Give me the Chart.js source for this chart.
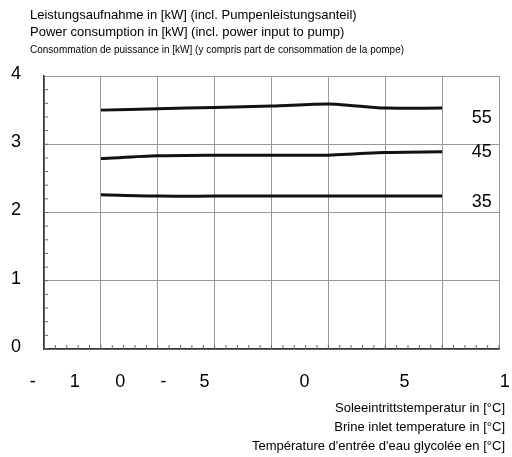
<!DOCTYPE html>
<html>
<head>
<meta charset="utf-8">
<script src="https://cdn.jsdelivr.net/npm/chart.js@4"></script>
<style>
body { margin: 0; background: #fff; }
#wrap { width: 512px; height: 457px; }
</style>
</head>
<body>
<div id="wrap"><canvas id="c"></canvas></div>
<script>
const brineTemps = [-15, -10, -5, 0, 5, 7.5, 10, 15];
const power55 = [3.50, 3.52, 3.54, 3.56, 3.59, 3.56, 3.53, 3.53];
const power45 = [2.79, 2.83, 2.84, 2.84, 2.84, 2.86, 2.88, 2.89];
const power35 = [2.26, 2.24, 2.24, 2.24, 2.24, 2.24, 2.24, 2.24];
const seriesNames = ["55", "45", "35"];
const yTickLabels = ["0", "1", "2", "3", "4"];
// the original's broken x labels, as [value, text]
const xTickLabels = [[-21, "-"], [-17.3, "1"], [-13.3, "0"], [-9.5, "-"], [-5.9, "5"], [2.9, "0"], [11.7, "5"], [20.5, "1"]];
const seriesLabelPos = [[17.6, 3.38], [17.6, 2.88], [17.6, 2.16]];

const pts = arr => brineTemps.map((x, i) => ({ x: x, y: arr[i] }));

const decor = {
    id: "decor",
    afterDraw(chart) {
        const g = chart.ctx, xs = chart.scales.x, ys = chart.scales.y, a = chart.chartArea;
        g.save();
        g.fillStyle = "#000";
        // minor ticks
        g.strokeStyle = "#666";
        g.lineWidth = 1;
        for (let v = -20; v <= 20; v += 1) {
            const px = xs.getPixelForValue(v);
            g.beginPath(); g.moveTo(px, a.bottom); g.lineTo(px, a.bottom - 4); g.stroke();
        }
        for (let v = 0; v <= 4; v += 0.2) {
            const py = ys.getPixelForValue(v);
            g.beginPath(); g.moveTo(a.left, py); g.lineTo(a.left + 4, py); g.stroke();
        }
        g.font = "18px Arial, 'Liberation Sans'";
        g.textBaseline = "middle";
        g.textAlign = "center";
        yTickLabels.forEach((t, i) => g.fillText(t, 16, ys.getPixelForValue(i) - 2));
        xTickLabels.forEach(([v, t]) => g.fillText(t, xs.getPixelForValue(v), 382));
        g.textAlign = "left";
        seriesNames.forEach((t, i) => g.fillText(t, xs.getPixelForValue(seriesLabelPos[i][0]), ys.getPixelForValue(seriesLabelPos[i][1])));
        g.font = "13px Arial, 'Liberation Sans'";
        g.fillText("Leistungsaufnahme in [kW] (incl. Pumpenleistungsanteil)", 30, 15);
        g.fillText("Power consumption in [kW] (incl. power input to pump)", 30, 32);
        g.font = "10px 'Liberation Sans Narrow', Arial";
        g.fillText("Consommation de puissance in [kW] (y compris part de consommation de la pompe)", 30, 50);
        g.textAlign = "right";
        g.font = "13px Arial, 'Liberation Sans'";
        g.fillText("Soleeintrittstemperatur in [°C]", 505, 408);
        g.fillText("Brine inlet temperature in [°C]", 505, 427);
        g.fillText("Température d'entrée d'eau glycolée en [°C]", 505, 446);
        g.restore();
    }
};

const line = (data) => ({ data: pts(data), borderColor: "#111", borderWidth: 3, pointRadius: 0, tension: 0.3, fill: false });

new Chart(document.getElementById("c"), {
    type: "line",
    data: { datasets: [line(power55), line(power45), line(power35)] },
    options: {
        responsive: true,
        maintainAspectRatio: false,
        animation: false,
        layout: { padding: { left: 44, top: 76, right: 13, bottom: 108 } },
        plugins: { legend: { display: false }, tooltip: { enabled: false } },
        scales: {
            x: {
                type: "linear", min: -20, max: 20,
                ticks: { display: false, stepSize: 5 },
                grid: { color: "#999", drawTicks: false },
                border: { color: "#333", width: 1.5 }
            },
            y: {
                min: 0, max: 4,
                ticks: { display: false, stepSize: 1 },
                grid: { color: "#999", drawTicks: false },
                border: { color: "#333", width: 1.5 }
            }
        }
    },
    plugins: [decor]
});
</script>
</body>
</html>
